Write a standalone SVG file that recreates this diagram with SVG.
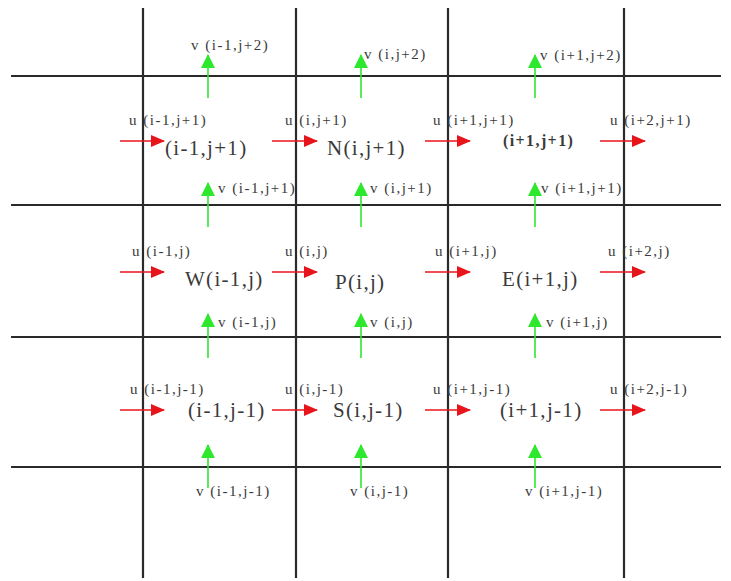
<svg xmlns="http://www.w3.org/2000/svg" width="731" height="581" viewBox="0 0 731 581">
<defs>
<marker id="rh" markerUnits="userSpaceOnUse" markerWidth="14" markerHeight="12" refX="13" refY="6" orient="auto"><path d="M0,0 L14,6 L0,12 Z" fill="#e8141c"/></marker>
<marker id="gh" markerUnits="userSpaceOnUse" markerWidth="14" markerHeight="14" refX="13" refY="7" orient="auto"><path d="M0,0 L14,7 L0,14 Z" fill="#2ee82e"/></marker>
</defs>
<style>
.grid line{stroke:#2a2a2a;stroke-width:2.2}
.u{stroke:#e8141c;stroke-width:1.6;marker-end:url(#rh)}
.v{stroke:#2ee82e;stroke-width:1.6;marker-end:url(#gh)}
text{font-family:"Liberation Serif","Times New Roman",serif;fill:#3a3a3a}
.s{font-size:15px;letter-spacing:1.5px}
.c{font-size:21px;letter-spacing:1.3px}
.b{font-size:16px;font-weight:bold;letter-spacing:1.4px}
</style>
<rect width="731" height="581" fill="#fff"/>
<g id="grid" class="grid">
<line x1="143" y1="8" x2="143" y2="578"/>
<line x1="296" y1="8" x2="296" y2="578"/>
<line x1="448" y1="8" x2="448" y2="578"/>
<line x1="624" y1="8" x2="624" y2="578"/>
<line x1="11" y1="76" x2="721" y2="76"/>
<line x1="11" y1="205" x2="721" y2="205"/>
<line x1="11" y1="337" x2="721" y2="337"/>
<line x1="11" y1="467" x2="721" y2="467"/>
</g>
<g id="connectors">
<line class="u" x1="120" y1="141" x2="164" y2="141"/>
<line class="u" x1="272" y1="141" x2="317" y2="141"/>
<line class="u" x1="425" y1="141" x2="470" y2="141"/>
<line class="u" x1="600" y1="141" x2="645" y2="141"/>
<line class="u" x1="120" y1="272" x2="164" y2="272"/>
<line class="u" x1="272" y1="272" x2="317" y2="272"/>
<line class="u" x1="425" y1="272" x2="470" y2="272"/>
<line class="u" x1="600" y1="272" x2="645" y2="272"/>
<line class="u" x1="120" y1="410" x2="164" y2="410"/>
<line class="u" x1="272" y1="410" x2="317" y2="410"/>
<line class="u" x1="425" y1="410" x2="470" y2="410"/>
<line class="u" x1="600" y1="410" x2="645" y2="410"/>
<line class="v" x1="208" y1="98" x2="208" y2="55"/>
<line class="v" x1="361" y1="98" x2="361" y2="55"/>
<line class="v" x1="535" y1="98" x2="535" y2="55"/>
<line class="v" x1="208" y1="227" x2="208" y2="183"/>
<line class="v" x1="361" y1="227" x2="361" y2="183"/>
<line class="v" x1="535" y1="227" x2="535" y2="183"/>
<line class="v" x1="208" y1="358" x2="208" y2="314"/>
<line class="v" x1="361" y1="358" x2="361" y2="314"/>
<line class="v" x1="535" y1="358" x2="535" y2="314"/>
<line class="v" x1="208" y1="488" x2="208" y2="445"/>
<line class="v" x1="361" y1="488" x2="361" y2="445"/>
<line class="v" x1="535" y1="488" x2="535" y2="445"/>
</g>
<g id="labels-v">
<text class="s" x="191" y="50">v (i-1,j+2)</text>
<text class="s" x="364" y="59">v (i,j+2)</text>
<text class="s" x="540" y="60">v (i+1,j+2)</text>
<text class="s" x="218" y="193">v (i-1,j+1)</text>
<text class="s" x="370" y="193">v (i,j+1)</text>
<text class="s" x="541" y="193">v (i+1,j+1)</text>
<text class="s" x="218" y="327">v (i-1,j)</text>
<text class="s" x="370" y="327">v (i,j)</text>
<text class="s" x="546" y="327">v (i+1,j)</text>
<text class="s" x="196" y="496">v (i-1,j-1)</text>
<text class="s" x="350" y="496">v (i,j-1)</text>
<text class="s" x="525" y="496">v (i+1,j-1)</text>
</g>
<g id="labels-u">
<text class="s" x="129" y="125">u (i-1,j+1)</text>
<text class="s" x="285" y="125">u (i,j+1)</text>
<text class="s" x="433" y="125">u (i+1,j+1)</text>
<text class="s" x="610" y="125">u (i+2,j+1)</text>
<text class="s" x="132" y="256">u (i-1,j)</text>
<text class="s" x="285" y="256">u (i,j)</text>
<text class="s" x="435" y="256">u (i+1,j)</text>
<text class="s" x="608" y="256">u (i+2,j)</text>
<text class="s" x="130" y="394">u (i-1,j-1)</text>
<text class="s" x="285" y="394">u (i,j-1)</text>
<text class="s" x="433" y="394">u (i+1,j-1)</text>
<text class="s" x="610" y="394">u (i+2,j-1)</text>
</g>
<g id="node-nw"><text class="c" x="165" y="155">(i-1,j+1)</text></g>
<g id="node-n"><text class="c" x="327" y="155">N(i,j+1)</text></g>
<g id="node-ne"><text class="b" x="503" y="146">(i+1,j+1)</text></g>
<g id="node-w"><text class="c" x="185" y="286">W(i-1,j)</text></g>
<g id="node-p"><text class="c" x="335" y="289">P(i,j)</text></g>
<g id="node-e"><text class="c" x="502" y="286">E(i+1,j)</text></g>
<g id="node-sw"><text class="c" x="188" y="417">(i-1,j-1)</text></g>
<g id="node-s"><text class="c" x="333" y="417">S(i,j-1)</text></g>
<g id="node-se"><text class="c" x="500" y="417">(i+1,j-1)</text></g>
</svg>
